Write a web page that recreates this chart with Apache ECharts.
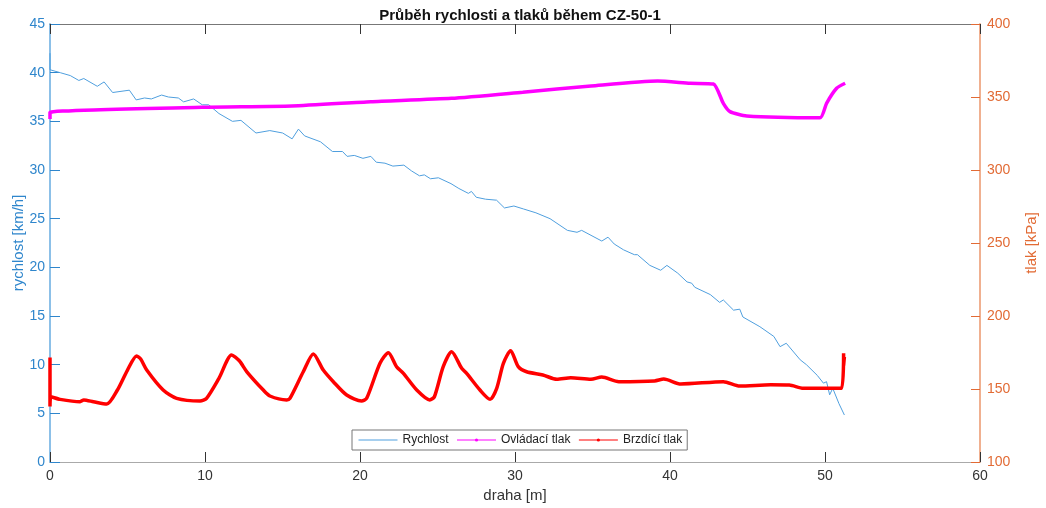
<!DOCTYPE html>
<html>
<head>
<meta charset="utf-8">
<script src="https://cdn.jsdelivr.net/npm/echarts@6/dist/echarts.min.js"></script>
<style>
  html, body { margin: 0; padding: 0; background: #fff; }
  #container { width: 1046px; height: 508px; }
</style>
</head>
<body>
<div id="container"></div>
<script>
// rychlost [km/h] vs draha [m]
var speedDist = [0, 0, 0.66, 1.31, 1.86, 2.18, 3.05, 3.49, 4.04, 5.12, 5.56, 6.1, 6.54, 7.2, 7.64, 8.28, 8.62, 9.27, 9.82, 10.24,
  10.9, 11.77, 12.32, 13.29, 14.18, 15.01, 15.62, 16.03, 16.43, 17.45, 18.22, 18.87, 19.17, 19.63, 20.19, 20.7, 21.05, 21.61, 22.12, 22.83,
  23.33, 23.84, 24.15, 24.55, 25.06, 25.87, 26.38, 26.99, 27.19, 27.5, 28.1, 28.81, 29.32, 29.93, 30.54, 31.35, 32.26, 33.38, 34.0, 34.3,
  35.6, 36.0, 36.4, 37.0, 37.7, 37.9, 38.7, 39.4, 39.8, 40.5, 41.1, 41.4, 41.6, 42.6, 43.2, 43.44, 44.1, 44.5, 44.7, 45.8,
  46.7, 47.1, 47.5, 48.4, 48.8, 49.5, 49.9, 50.1, 50.3, 50.5, 50.9, 51.25];
var speedVal = [42, 40.3, 40.0, 39.7, 39.2, 39.4, 38.6, 39.05, 37.96, 38.2, 37.2, 37.4, 37.3, 37.7, 37.5, 37.4, 37.0, 37.3, 36.7, 36.7,
  35.8, 35.0, 35.1, 33.8, 34.05, 33.8, 33.2, 34.2, 33.5, 32.9, 31.9, 31.9, 31.4, 31.5, 31.2, 31.4, 30.8, 30.7, 30.4, 30.5,
  29.9, 29.4, 29.5, 29.1, 29.2, 28.6, 28.1, 27.6, 27.8, 27.2, 27.0, 26.9, 26.1, 26.3, 26.0, 25.6, 25.0, 23.8, 23.6, 23.8,
  22.7, 23.1, 22.4, 21.8, 21.3, 21.3, 20.2, 19.7, 20.2, 19.4, 18.5, 18.37, 17.95, 17.2, 16.4, 16.65, 15.6, 15.7, 14.9, 13.9,
  12.9, 11.85, 12.2, 10.5, 10.0, 8.9, 8.1, 8.25, 6.9, 7.57, 6.0, 4.83];

// ovládací tlak [kPa]
var ctrlDist = [0, 0, 9.8, 15.6, 20.7, 25.9, 30.5, 34.9, 39.2, 41.3, 42.8, 43.44, 43.87, 44.95, 49.68, 50.1, 50.75, 51.3];
var ctrlVal = [335, 339.5, 342.9, 343.8, 346.8, 349.1, 353.3, 357.5, 360.9, 359.4, 358.9, 345.7, 340, 337, 335.8, 345.7, 356, 359.4];

// brzdící tlak [kPa]
var brakeDist = [0, 0, 0.05, 0.65, 1.94, 2.18, 2.8, 3.66, 4.35, 5.0, 5.59, 5.85, 6.24, 7.3, 8.17, 9.68, 10.1, 10.9, 11.72, 12.2,
  12.7, 13.76, 14.19, 15.27, 15.48, 16.34, 16.99, 17.63, 18.28, 19.14, 20.1, 20.43, 21.29, 21.83, 22.36, 22.8, 23.66, 24.5, 24.8, 25.37,
  25.91, 26.56, 26.88, 27.74, 28.39, 28.82, 29.25, 29.72, 30.21, 30.75, 31.8, 32.7, 33.6, 34.9, 35.6, 36.7, 39.0, 39.6, 40.7, 43.44,
  44.5, 46.5, 47.7, 48.6, 51.07, 51.2, 51.2, 51.25];
var brakeVal = [171.6, 138, 144.7, 142.9, 141.3, 142.5, 141.3, 139.7, 149.3, 163, 172.6, 170.5, 163, 149.3, 143.6, 141.8, 143.6, 157.3, 173.3, 169.5,
  161.8, 149.3, 145.2, 142.5, 143.6, 161.8, 174, 163, 155, 145.9, 141.8, 143.6, 167.6, 174.9, 165.3, 160.7, 149.3, 142.5, 144.7, 165.3,
  175.5, 164.2, 160.7, 149.3, 142.9, 150.5, 167.6, 176.2, 165.3, 161.8, 159.6, 156.6, 157.7, 156.6, 158.2, 155, 155.5, 156.8, 153.4, 155,
  152, 152.9, 152.7, 150.5, 150.5, 174.5, 166, 172];

function zip(xs, ys) {
  return xs.map(function (x, i) { return [x, ys[i]]; });
}

var leftColor = '#2f86cc';
var rightColor = '#e26b35';
var font = 'Liberation Sans, Arial, Helvetica, sans-serif';

var dom = document.getElementById('container');
var myChart = echarts.init(dom, null, { renderer: 'canvas' });

var option = {
  animation: false,
  textStyle: { fontFamily: font },
  title: {
    text: 'Průběh rychlosti a tlaků během CZ-50-1',
    left: 515,
    textAlign: 'center',
    top: 3,
    textStyle: { fontSize: 15, fontWeight: 'bold', color: '#111', fontFamily: font }
  },
  legend: {
    data: [
      { name: 'Rychlost', itemStyle: { opacity: 0 } },
      { name: 'Ovládací tlak' },
      { name: 'Brzdící tlak' }
    ],
    left: 352,
    top: 430,
    itemWidth: 39,
    itemHeight: 4,
    itemGap: 8,
    padding: [4, 5, 4, 6],
    backgroundColor: '#fff',
    borderColor: '#777',
    borderWidth: 1,
    borderRadius: 0,
    lineStyle: { width: 1 },
    textStyle: { fontSize: 12, color: '#222', fontFamily: font }
  },
  grid: { left: 50, right: 66, top: 24, bottom: 46, outerBoundsMode: 'none', containLabel: false },
  xAxis: [
    {
      type: 'value',
      min: 0, max: 60, interval: 10,
      name: 'draha [m]',
      nameLocation: 'middle',
      nameGap: 25,
      nameTextStyle: { fontSize: 15, color: '#333' },
      axisLine: { onZero: false, lineStyle: { color: '#aaa', width: 1 } },
      axisTick: { inside: true, length: 10, lineStyle: { color: '#333' } },
      axisLabel: { fontSize: 14, color: '#333', margin: 7 },
      splitLine: { show: false }
    },
    {
      type: 'value',
      position: 'top',
      min: 0, max: 60, interval: 10,
      axisLine: { onZero: false, lineStyle: { color: '#777', width: 1 } },
      axisTick: { inside: true, length: 10, lineStyle: { color: '#333' } },
      axisLabel: { show: false },
      splitLine: { show: false }
    }
  ],
  yAxis: [
    {
      type: 'value',
      position: 'left',
      min: 0, max: 45, interval: 5,
      name: 'rychlost [km/h]',
      nameLocation: 'middle',
      nameGap: 24,
      nameMoveOverlap: false,
      nameTextStyle: { fontSize: 15, color: leftColor },
      axisLine: { show: true, onZero: false, lineStyle: { color: '#8cc0e8', width: 2 } },
      axisTick: { show: true, inside: true, length: 10, lineStyle: { color: leftColor } },
      axisLabel: { fontSize: 14, color: leftColor, margin: 5 },
      splitLine: { show: false }
    },
    {
      type: 'value',
      position: 'right',
      min: 100, max: 400, interval: 50,
      name: 'tlak [kPa]',
      nameLocation: 'middle',
      nameGap: 44,
      nameRotate: 90,
      nameTextStyle: { fontSize: 15, color: rightColor },
      axisLine: { show: true, onZero: false, lineStyle: { color: '#f0b090', width: 2 } },
      axisTick: { show: true, inside: true, length: 9, lineStyle: { color: rightColor } },
      axisLabel: { fontSize: 14, color: rightColor, margin: 7 },
      splitLine: { show: false }
    }
  ],
  series: [
    {
      name: 'Rychlost',
      type: 'line',
      xAxisIndex: 0,
      yAxisIndex: 0,
      data: zip(speedDist, speedVal),
      symbol: 'none',
      lineStyle: { color: '#4f9fde', width: 1 },
      itemStyle: { color: '#4f9fde' },
      z: 2
    },
    {
      name: 'Ovládací tlak',
      type: 'line',
      xAxisIndex: 0,
      yAxisIndex: 1,
      data: zip(ctrlDist, ctrlVal),
      smooth: 0.2,
      symbol: 'circle',
      symbolSize: 3,
      showSymbol: false,
      lineStyle: { color: '#ff00ff', width: 3.5 },
      itemStyle: { color: '#ff00ff' },
      z: 3
    },
    {
      name: 'Brzdící tlak',
      type: 'line',
      xAxisIndex: 0,
      yAxisIndex: 1,
      data: zip(brakeDist, brakeVal),
      smooth: 0.25,
      symbol: 'circle',
      symbolSize: 3,
      showSymbol: false,
      lineStyle: { color: '#ff0000', width: 3.5 },
      itemStyle: { color: '#ff0000' },
      z: 3
    }
  ]
};

myChart.setOption(option);
window.addEventListener('resize', myChart.resize);
</script>
</body>
</html>
